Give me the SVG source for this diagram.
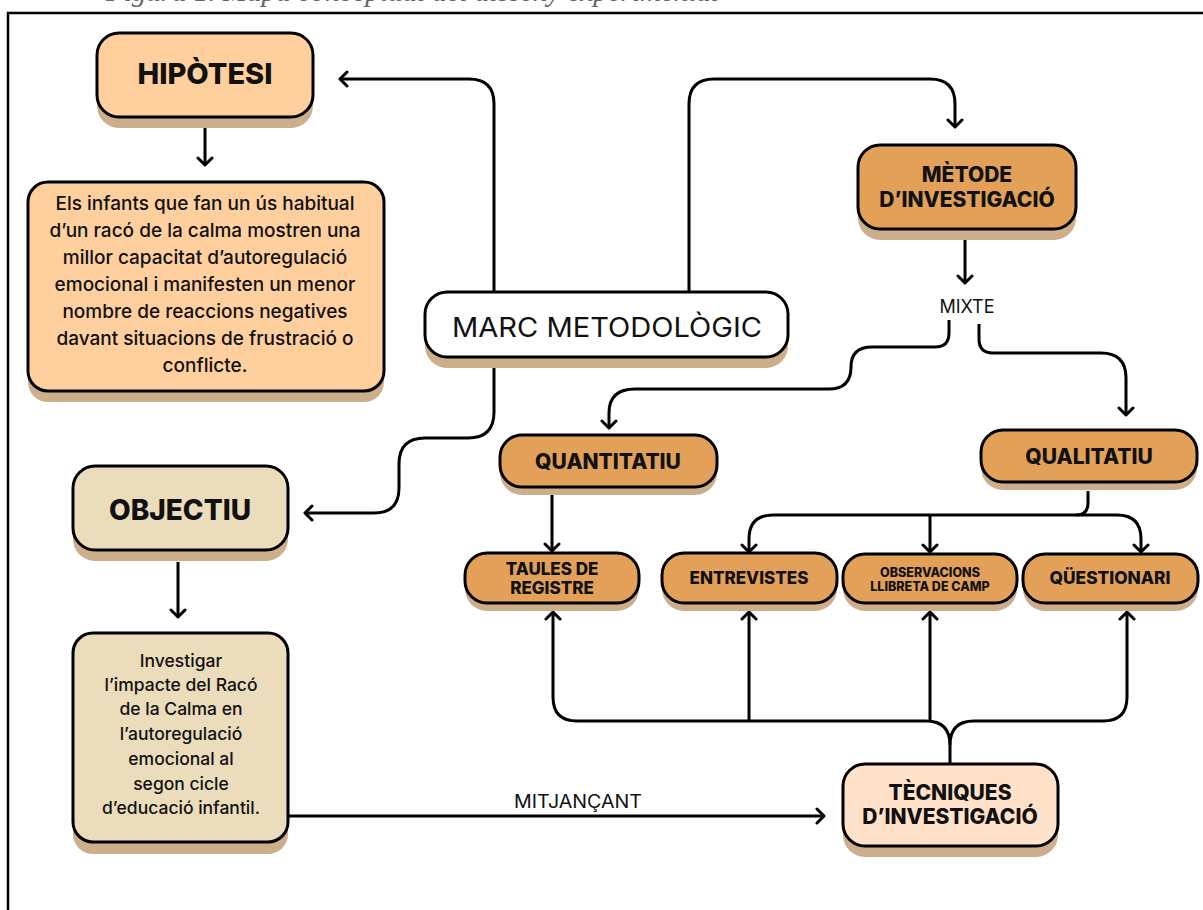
<svg xmlns="http://www.w3.org/2000/svg" width="1203" height="910" viewBox="0 0 1203 910">
<defs>
<marker id="arr" markerUnits="userSpaceOnUse" viewBox="-10 -10 12 20" markerWidth="12" markerHeight="20" refX="0" refY="0" orient="auto">
<path d="M-7,-7 L0,0 L-7,7" fill="none" stroke="#000" stroke-width="3" stroke-linecap="round" stroke-linejoin="round"/>
</marker>
</defs>
<style>
.box{stroke:#000;stroke-width:3}
.sh{fill:#CDAE8B}
.peach{fill:#FFD09E}
.orange{fill:#E2A058}
.beige{fill:#EBDCBC}
.light{fill:#FFE2C9}
.white{fill:#fff}
.conn path{fill:none;stroke:#000;stroke-width:3;stroke-linejoin:round}
.t{font-family:Inter,"Liberation Sans",sans-serif;fill:#111;text-anchor:middle}
.b{font-weight:800}
.m{font-weight:500}
</style>
<rect width="1203" height="910" fill="#fff"/>
<text x="106" y="1" font-family="Liberation Serif,serif" font-style="italic" font-size="29" fill="#666">Figura 1. Mapa conceptual del disseny experimental</text>
<path d="M8,910 V13 H1203" fill="none" stroke="#000" stroke-width="2.5"/>

<g id="conn" class="conn">
<path d="M494,292 V104 Q494,79 469,79 H340" marker-end="url(#arr)"/>
<path d="M689,292 V104 Q689,79 714,79 H930 Q955,79 955,104 V127" marker-end="url(#arr)"/>
<path d="M494,368 V412 Q494,438 468,438 H425 Q399,438 399,464 V488 Q399,513 374,513 H305" marker-end="url(#arr)"/>
<path d="M205,128 V165" marker-end="url(#arr)"/>
<path d="M178,562 V617" marker-end="url(#arr)"/>
<path d="M965,240 V283" marker-end="url(#arr)"/>
<path d="M949,320 V333 Q949,347 935,347 H872 Q851,347 851,367 Q851,389 829,389 H635 Q609,389 609,413 V428" marker-end="url(#arr)"/>
<path d="M979,324 V339 Q979,353 993,353 H1101 Q1126,353 1126,378 V415" marker-end="url(#arr)"/>
<path d="M552,495 V551" marker-end="url(#arr)"/>
<path d="M1088,491 V503 Q1088,515 1076,515 H773 Q749,515 749,539 V552" marker-end="url(#arr)"/>
<path d="M1076,515 H1117 Q1141,515 1141,539 V552" marker-end="url(#arr)"/>
<path d="M930,515 V552" marker-end="url(#arr)"/>
<path d="M950,764 V745 Q950,721 926,721 H577 Q553,721 553,697 V612" marker-end="url(#arr)"/>
<path d="M950,745 Q950,721 974,721 H1103 Q1127,721 1127,697 V612" marker-end="url(#arr)"/>
<path d="M749,721 V612" marker-end="url(#arr)"/>
<path d="M930,721 V612" marker-end="url(#arr)"/>
<path d="M288,816 H824" marker-end="url(#arr)"/>
<text class="t" x="578" y="808" font-size="18" textLength="128" lengthAdjust="spacingAndGlyphs" style="stroke:none">MITJANÇANT</text>
<text class="t" x="967" y="313" font-size="18" style="stroke:none">MIXTE</text>
</g>

<g id="hipotesi">
<rect class="sh" x="97" y="44" width="216" height="84" rx="22"/>
<rect class="box peach" x="97" y="33" width="216" height="84" rx="22"/>
<text class="t b" x="205" y="84" font-size="29">HIPÒTESI</text>
</g>

<g id="hipotesi-text">
<rect class="sh" x="28" y="193" width="356" height="209" rx="20"/>
<rect class="box peach" x="28" y="182" width="356" height="209" rx="20"/>
<g class="t m" font-size="19">
<text x="205" y="210">Els infants que fan un ús habitual</text>
<text x="205" y="237">d’un racó de la calma mostren una</text>
<text x="205" y="264">millor capacitat d’autoregulació</text>
<text x="205" y="291">emocional i manifesten un menor</text>
<text x="205" y="318">nombre de reaccions negatives</text>
<text x="205" y="345">davant situacions de frustració o</text>
<text x="205" y="372">conflicte.</text>
</g>
</g>

<g id="marc">
<rect class="sh" x="425" y="303" width="363" height="65" rx="22"/>
<rect class="box white" x="425" y="292" width="363" height="65" rx="22"/>
<text class="t" x="607" y="337" font-size="27" font-family="Lato,'Open Sans',sans-serif" textLength="310" lengthAdjust="spacingAndGlyphs">MARC METODOLÒGIC</text>
</g>

<g id="metode">
<rect class="sh" x="858" y="156" width="218" height="84" rx="22"/>
<rect class="box orange" x="858" y="145" width="218" height="84" rx="22"/>
<text class="t b" x="967" y="182" font-size="21">MÈTODE</text>
<text class="t b" x="967" y="207" font-size="21">D’INVESTIGACIÓ</text>
</g>

<g id="quantitatiu">
<rect class="sh" x="500" y="443" width="217" height="52" rx="22"/>
<rect class="box orange" x="500" y="435" width="217" height="52" rx="22"/>
<text class="t b" x="608" y="469" font-size="21">QUANTITATIU</text>
</g>

<g id="qualitatiu">
<rect class="sh" x="981" y="438" width="216" height="52" rx="22"/>
<rect class="box orange" x="981" y="430" width="216" height="52" rx="22"/>
<text class="t b" x="1089" y="464" font-size="21">QUALITATIU</text>
</g>

<g id="taules">
<rect class="sh" x="465" y="561" width="174" height="50" rx="22"/>
<rect class="box orange" x="465" y="553" width="174" height="50" rx="22"/>
<text class="t b" x="552" y="575" font-size="17">TAULES DE</text>
<text class="t b" x="552" y="594" font-size="17">REGISTRE</text>
</g>

<g id="entrevistes">
<rect class="sh" x="662" y="561" width="175" height="50" rx="22"/>
<rect class="box orange" x="662" y="553" width="175" height="50" rx="22"/>
<text class="t b" x="749" y="584" font-size="17">ENTREVISTES</text>
</g>

<g id="observacions">
<rect class="sh" x="843" y="562" width="174" height="49" rx="22"/>
<rect class="box orange" x="843" y="554" width="174" height="49" rx="22"/>
<text class="t b" x="930" y="576.5" font-size="12.5">OBSERVACIONS</text>
<text class="t b" x="930" y="591" font-size="12.5">LLIBRETA DE CAMP</text>
</g>

<g id="questionari">
<rect class="sh" x="1023" y="562" width="175" height="49" rx="22"/>
<rect class="box orange" x="1023" y="554" width="175" height="49" rx="22"/>
<text class="t b" x="1110" y="584" font-size="17.3">QÜESTIONARI</text>
</g>

<g id="objectiu">
<rect class="sh" x="73" y="477" width="215" height="84" rx="22"/>
<rect class="box beige" x="73" y="466" width="215" height="84" rx="22"/>
<text class="t b" x="180" y="520" font-size="28">OBJECTIU</text>
</g>

<g id="objectiu-text">
<rect class="sh" x="73" y="645" width="215" height="209" rx="20"/>
<rect class="box beige" x="73" y="633" width="215" height="209" rx="20"/>
<g class="t m" font-size="17.5">
<text x="181" y="667">Investigar</text>
<text x="181" y="691">l’impacte del Racó</text>
<text x="181" y="715">de la Calma en</text>
<text x="181" y="740">l’autoregulació</text>
<text x="181" y="765">emocional al</text>
<text x="181" y="790">segon cicle</text>
<text x="181" y="814">d’educació infantil.</text>
</g>
</g>

<g id="tecniques">
<rect class="sh" x="843" y="775" width="215" height="82" rx="22"/>
<rect class="box light" x="843" y="764" width="215" height="82" rx="22"/>
<text class="t b" x="950" y="800" font-size="21">TÈCNIQUES</text>
<text class="t b" x="950" y="824" font-size="21">D’INVESTIGACIÓ</text>
</g>
</svg>
